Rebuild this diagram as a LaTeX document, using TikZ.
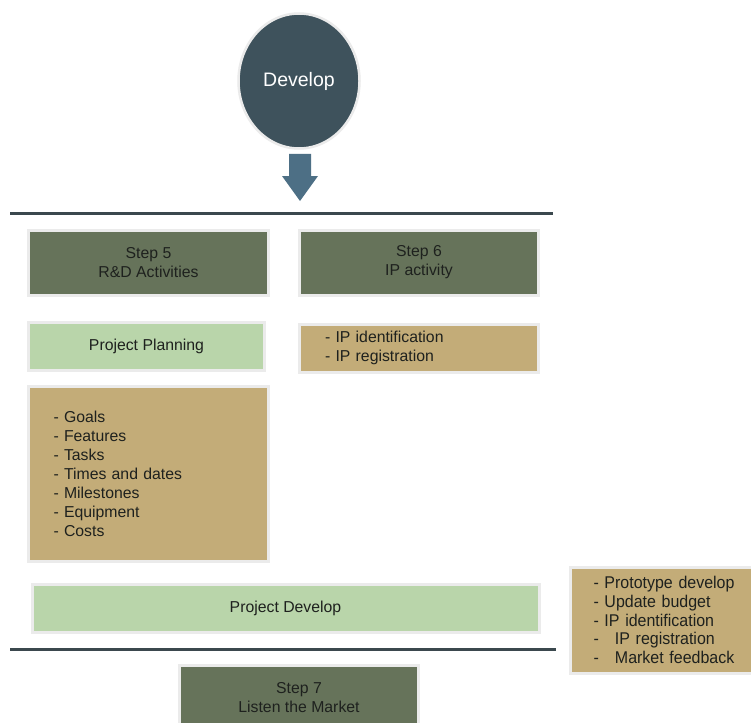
\documentclass[tikz,border=0pt]{standalone}
\usepackage{fontspec}
\setmainfont{Liberation Sans}
\newfontfamily\narrowsans[FakeStretch=0.94]{Liberation Sans}
\usetikzlibrary{shapes.geometric}

\definecolor{slate}{HTML}{3E525C}
\definecolor{arrowblue}{HTML}{4D6F85}
\definecolor{rulegray}{HTML}{3B484E}
\definecolor{olive}{HTML}{66735A}
\definecolor{sage}{HTML}{B9D5AA}
\definecolor{tan}{HTML}{C3AC78}
\definecolor{halo}{HTML}{EBEBEB}
\definecolor{ink}{HTML}{1E211E}

\tikzset{
  box/.style={rectangle, draw=halo, line width=3pt, inner sep=0pt,
    text=ink, font=\fontsize{15.8}{19}\selectfont},
  stepbox/.style={box, fill=olive, align=center},
  planbox/.style={box, fill=sage, align=center},
  listbox/.style={box, fill=tan, align=left},
  rule/.style={draw=rulegray, line width=3pt}
}

\begin{document}
\begin{tikzpicture}[x=1pt, y=-1pt]
  \fill[white] (0,0) rectangle (751,722);
  \useasboundingbox (0,0) rectangle (751,722);

  % phase bubble
  \node[ellipse, fill=slate, draw=halo, line width=2.5pt,
        minimum width=121pt, minimum height=135pt, text=white,
        font=\fontsize{19.5}{23}\selectfont] (develop) at (299,81) {Develop};

  % block arrow pointing down to the section rule
  \coordinate (tip) at (300,201);
  \fill[arrowblue] (tip) -- ++(-18,-25) -- ++(7,0) -- ++(0,-22) -- ++(22,0)
                   -- ++(0,22) -- ++(7,0) -- cycle;

  % section rules
  \draw[rule] (10,213) -- (553,213);
  \draw[rule] (10,649) -- (556,649);

  % step 5 column
  \node[stepbox, minimum width=240pt, minimum height=65pt] (s5) at (148.5,262.5)
    {Step 5\\R\&D Activities};
  \node[planbox, minimum width=236pt, minimum height=48pt] (plan) at (146.5,346.5)
    {Project Planning};
  \node[listbox, minimum width=240pt, minimum height=175pt, text width=190pt]
    (goals) at (148.5,474)
    {- Goals\\- Features\\- Tasks\\- Times and dates\\- Milestones\\- Equipment\\- Costs};

  % step 6 column
  \node[stepbox, minimum width=239pt, minimum height=65pt] (s6) at (419,262.5)
    {Step 6\\IP activity};
  \node[listbox, minimum width=239pt, minimum height=48pt, text width=188pt]
    (ip) at (419,348)
    {- IP identification\\- IP registration};

  % development bar and its tasks
  \node[planbox, minimum width=507pt, minimum height=48pt] (pdev) at (285.5,608)
    {Project Develop};
  \node[listbox, minimum width=193pt, minimum height=106pt, text width=147pt,
        font=\narrowsans\fontsize{17}{18.8}\selectfont]
    (tasks) at (667,620)
    {- Prototype develop\\- Update budget\\- IP identification\\-\hspace{0.95em}IP registration\\-\hspace{0.95em}Market feedback};

  % step 7
  \node[stepbox, minimum width=239pt, minimum height=65pt] (s7) at (299,698)
    {Step 7\\Listen the Market};
\end{tikzpicture}
\end{document}
